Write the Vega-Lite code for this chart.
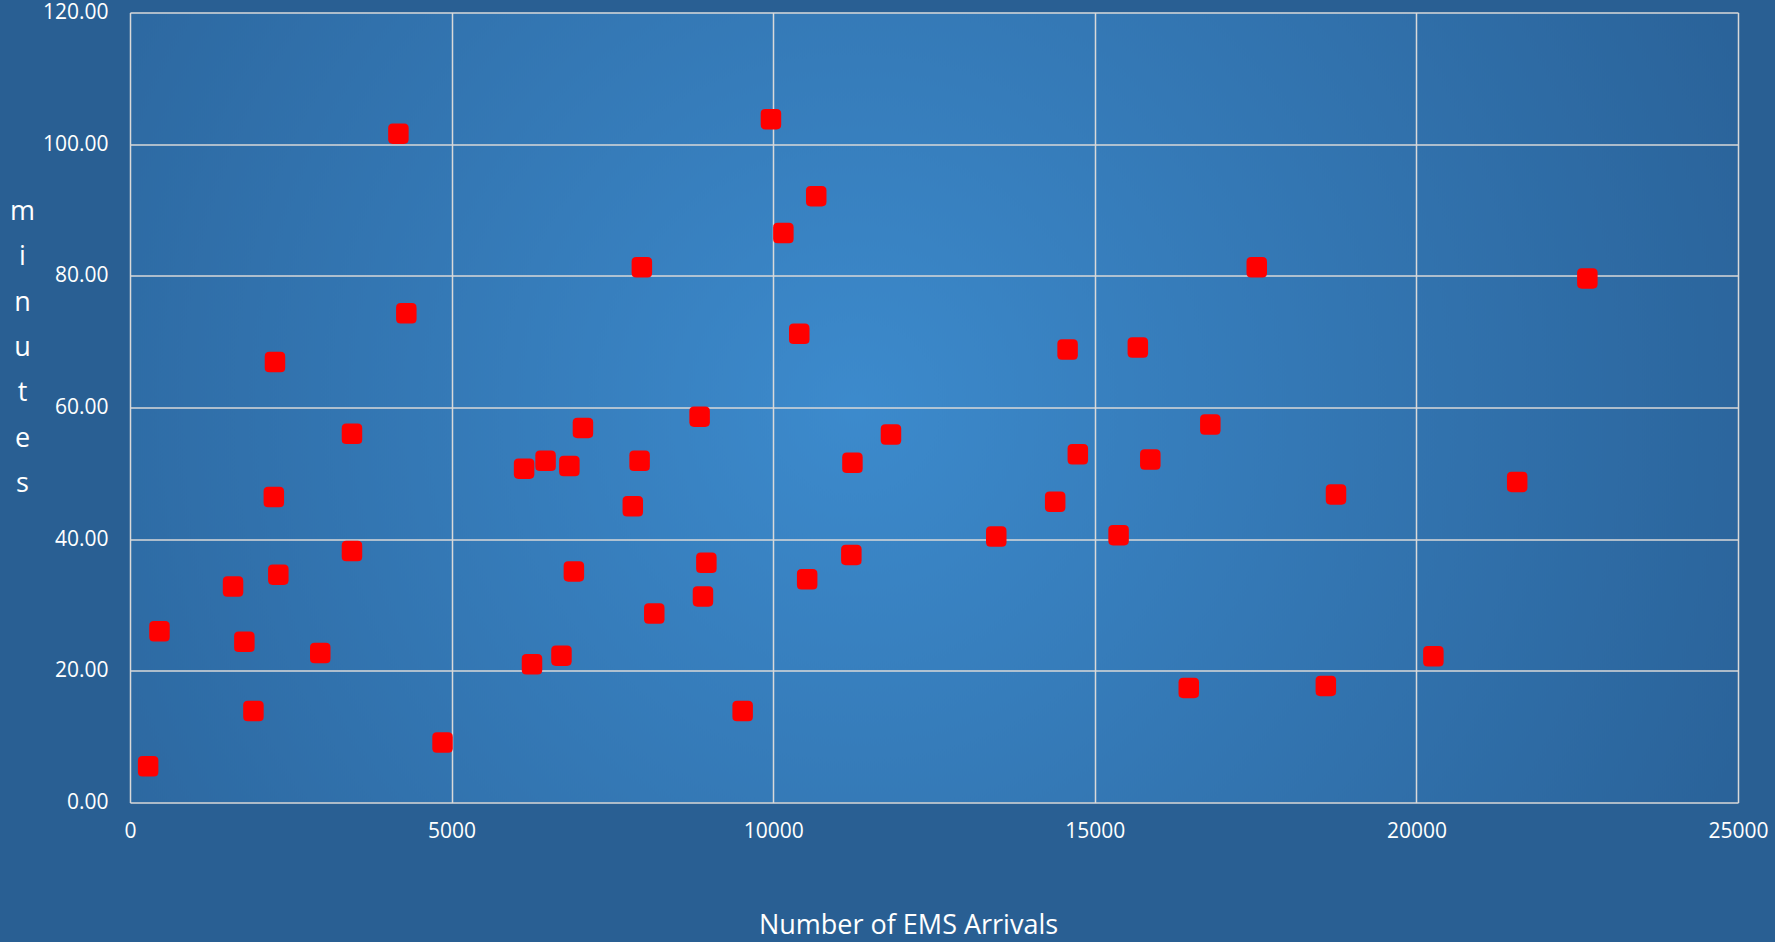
{
  "$schema": "https://vega.github.io/schema/vega-lite/v6.json",
  "autosize": "none",
  "width": 1608,
  "height": 790,
  "padding": {"left": 130, "top": 12.5, "right": 37, "bottom": 139.5},
  "background": "#295f93",
  "config": {
    "view": {
      "stroke": null,
      "fill": {
        "gradient": "radial",
        "x1": 0.45, "y1": 0.5, "r1": 0,
        "x2": 0.45, "y2": 0.5, "r2": 0.8,
        "stops": [
          {"offset": 0, "color": "#3c8acc"},
          {"offset": 1, "color": "#245588"}
        ]
      }
    },
    "axis": {
      "labelFont": "Open Sans",
      "titleFont": "Open Sans",
      "labelColor": "#ffffff",
      "titleColor": "#ffffff",
      "labelFontSize": 21,
      "titleFontSize": 27,
      "titleFontWeight": "normal",
      "gridColor": "#d9d9d9",
      "gridWidth": 1.5,
      "gridOpacity": 1,
      "domain": false,
      "ticks": false,
      "labelFlush": false
    }
  },
  "data": {
    "values": [
      {"arrivals": 282, "minutes": 5.5},
      {"arrivals": 458, "minutes": 26.0},
      {"arrivals": 1602, "minutes": 32.8},
      {"arrivals": 1778, "minutes": 24.4},
      {"arrivals": 1919, "minutes": 13.9},
      {"arrivals": 2236, "minutes": 46.4},
      {"arrivals": 2254, "minutes": 66.9},
      {"arrivals": 2306, "minutes": 34.6},
      {"arrivals": 2958, "minutes": 22.7},
      {"arrivals": 3451, "minutes": 56.0},
      {"arrivals": 3451, "minutes": 38.2},
      {"arrivals": 4173, "minutes": 101.6},
      {"arrivals": 4296, "minutes": 74.3},
      {"arrivals": 4859, "minutes": 9.1},
      {"arrivals": 6127, "minutes": 50.7},
      {"arrivals": 6250, "minutes": 21.0},
      {"arrivals": 6461, "minutes": 51.9},
      {"arrivals": 6708, "minutes": 22.3},
      {"arrivals": 6831, "minutes": 51.1},
      {"arrivals": 6901, "minutes": 35.1},
      {"arrivals": 7042, "minutes": 56.9},
      {"arrivals": 7817, "minutes": 45.0},
      {"arrivals": 7923, "minutes": 51.9},
      {"arrivals": 7958, "minutes": 81.3},
      {"arrivals": 8151, "minutes": 28.7},
      {"arrivals": 8856, "minutes": 58.6},
      {"arrivals": 8908, "minutes": 31.3},
      {"arrivals": 8961, "minutes": 36.4},
      {"arrivals": 9525, "minutes": 13.9},
      {"arrivals": 9965, "minutes": 103.8},
      {"arrivals": 10158, "minutes": 86.5},
      {"arrivals": 10405, "minutes": 71.2},
      {"arrivals": 10528, "minutes": 33.9},
      {"arrivals": 10669, "minutes": 92.1},
      {"arrivals": 11215, "minutes": 37.6},
      {"arrivals": 11232, "minutes": 51.6},
      {"arrivals": 11831, "minutes": 55.9},
      {"arrivals": 13468, "minutes": 40.4},
      {"arrivals": 14384, "minutes": 45.7},
      {"arrivals": 14577, "minutes": 68.8},
      {"arrivals": 14736, "minutes": 52.9},
      {"arrivals": 15370, "minutes": 40.6},
      {"arrivals": 15669, "minutes": 69.1},
      {"arrivals": 15863, "minutes": 52.1},
      {"arrivals": 16461, "minutes": 17.4},
      {"arrivals": 16796, "minutes": 57.4},
      {"arrivals": 17518, "minutes": 81.3},
      {"arrivals": 18592, "minutes": 17.7},
      {"arrivals": 18750, "minutes": 46.8},
      {"arrivals": 20264, "minutes": 22.2},
      {"arrivals": 21567, "minutes": 48.7},
      {"arrivals": 22658, "minutes": 79.6}
    ]
  },
  "mark": {
    "type": "point",
    "filled": true,
    "shape": "M -0.55,-1 L 0.55,-1 Q 1,-1 1,-0.55 L 1,0.55 Q 1,1 0.55,1 L -0.55,1 Q -1,1 -1,0.55 L -1,-0.55 Q -1,-1 -0.55,-1 Z",
    "size": 420,
    "color": "#ff0000",
    "opacity": 1
  },
  "encoding": {
    "x": {
      "field": "arrivals",
      "type": "quantitative",
      "scale": {"domain": [0, 25000], "nice": false, "zero": true},
      "axis": {
        "values": [0, 5000, 10000, 15000, 20000, 25000],
        "format": "d",
        "labelPadding": 18,
        "title": "Number of EMS Arrivals",
        "titleX": 778,
        "titleY": 131,
        "titleBaseline": "alphabetic",
        "titleAnchor": null
      }
    },
    "y": {
      "field": "minutes",
      "type": "quantitative",
      "scale": {"domain": [0, 120], "nice": false},
      "axis": {
        "values": [0, 20, 40, 60, 80, 100, 120],
        "format": ".2f",
        "labelPadding": 22,
        "title": ["m", "i", "n", "u", "t", "e", "s"],
        "titleAngle": 0,
        "titleAlign": "center",
        "titleBaseline": "top",
        "titleLineHeight": 45.3,
        "titleX": -108,
        "titleY": 186
      }
    }
  }
}
